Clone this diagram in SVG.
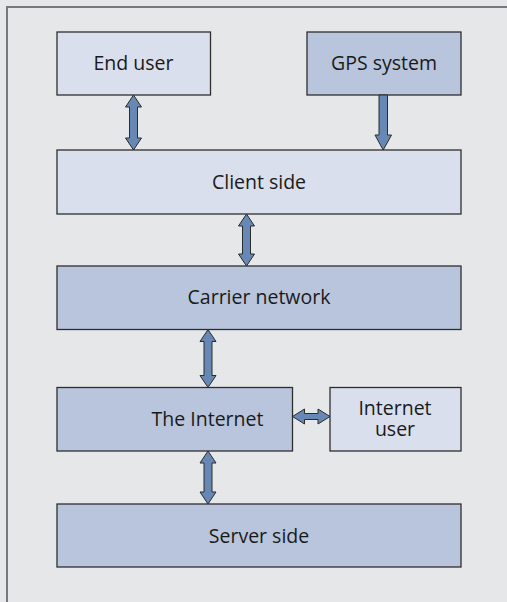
<svg xmlns="http://www.w3.org/2000/svg" width="507" height="602" viewBox="0 0 507 602">
<style>
.bg{fill:#e6e7e9}
.frame{fill:none;stroke:#77787b;stroke-width:2}
.light{fill:#d9dfec;stroke:#2e2e2e;stroke-width:1.3}
.dark{fill:#b8c5dc;stroke:#2e2e2e;stroke-width:1.3}
.arr{fill:#6787b5;stroke:#2b2b2b;stroke-width:1}
text{font-family:"Open Sans","Noto Sans",sans-serif;font-size:19.5px;fill:#1a1a1a;text-anchor:middle}
</style>
<rect class="bg" x="0" y="0" width="507" height="602"/>
<path class="frame" d="M7,602 V7 H507"/>
<g id="end-user"><rect class="light" x="57" y="32" width="153.5" height="63"/><text x="133.5" y="70">End user</text></g>
<g id="gps-system"><rect class="dark" x="307" y="32" width="154" height="63"/><text x="384" y="70">GPS system</text></g>
<g id="client-side"><rect class="light" x="57" y="150" width="404" height="64"/><text x="259" y="188.5">Client side</text></g>
<g id="carrier-network"><rect class="dark" x="57" y="266" width="404" height="63.5"/><text x="259" y="304">Carrier network</text></g>
<g id="the-internet"><rect class="dark" x="57" y="387.5" width="235.5" height="63.5"/><text x="207.5" y="426">The Internet</text></g>
<g id="internet-user"><rect class="light" x="330" y="387.5" width="131" height="63.5"/><text x="395" y="414.5">Internet</text><text x="395" y="436">user</text></g>
<g id="server-side"><rect class="dark" x="57" y="504" width="404" height="63"/><text x="259" y="543">Server side</text></g>
<g id="connectors">
<path class="arr" d="M133.5,95 L141.5,107 L137.5,107 L137.5,138 L141.5,138 L133.5,150 L125.5,138 L129.5,138 L129.5,107 L125.5,107 Z"/>
<path class="arr" d="M379,95 L387.5,95 L387.5,135 L391.5,135 L383.2,150 L375,135 L379,135 Z"/>
<path class="arr" d="M246.5,214 L254.5,226 L250.5,226 L250.5,254 L254.5,254 L246.5,266 L238.5,254 L242.5,254 L242.5,226 L238.5,226 Z"/>
<path class="arr" d="M208,329.5 L216,341.5 L212,341.5 L212,375.5 L216,375.5 L208,387.5 L200,375.5 L204,375.5 L204,341.5 L200,341.5 Z"/>
<path class="arr" d="M208,451 L216,463 L212,463 L212,492 L216,492 L208,504 L200,492 L204,492 L204,463 L200,463 Z"/>
<path class="arr" d="M292.5,416.5 L304.5,409 L304.5,413.5 L318,413.5 L318,409 L330,416.5 L318,424 L318,419.5 L304.5,419.5 L304.5,424 Z"/>
</g>
</svg>
